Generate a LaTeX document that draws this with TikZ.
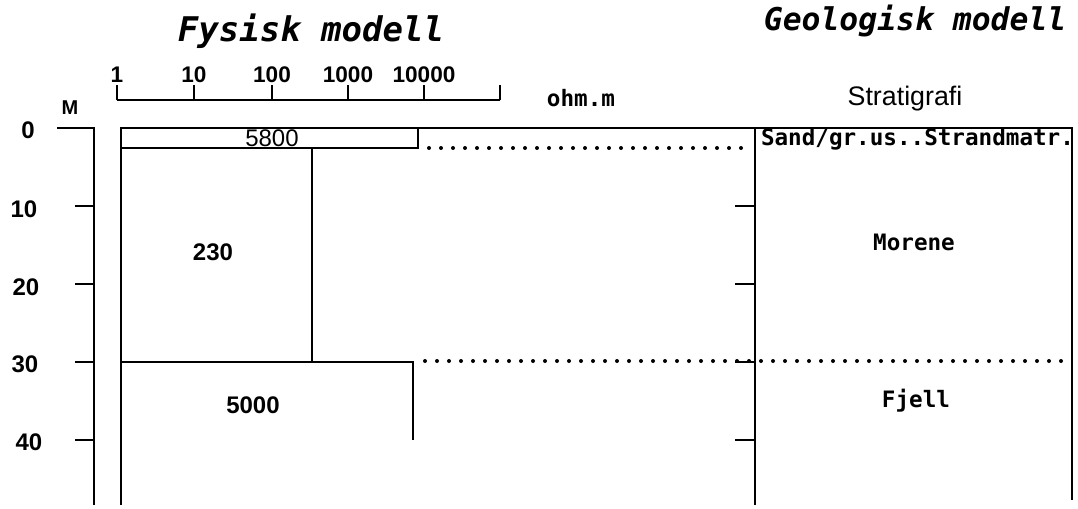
\documentclass[tikz,border=0pt]{standalone}
\usepackage{fontspec}
\setmainfont{Liberation Sans}
\newfontfamily\monofont{DejaVu Sans Mono}
\usepackage{tikz}

\tikzset{
  numlabel/.style={font=\fontsize{12}{12}\selectfont\bfseries},
  monolabel/.style={font=\monofont\fontsize{11.3}{12}\selectfont\bfseries},
  titlelabel/.style={font=\monofont\bfseries\itshape},
  dotline/.style={line width=2pt, dash pattern=on 0pt off 6pt, line cap=round},
}

\begin{document}
\begin{tikzpicture}[x=0.5pt, y=-0.5pt, line width=1pt]
\useasboundingbox (0,0) rectangle (1078,509);

\node[titlelabel, font=\monofont\fontsize{17}{17}\selectfont\bfseries\itshape] (fysisk) at (311,31) {Fysisk modell};
\node[titlelabel, font=\monofont\fontsize{15.7}{16}\selectfont\bfseries\itshape, anchor=east] (geologisk) at (1074,21) {Geologisk modell};

% resistivity scale
\draw (117,100) -- (500,100);
\foreach \xt/\lab [count=\i] in {117/1, 194/10, 272/100, 348/1000, 424/10000} {
  \draw (\xt,100) -- (\xt,85);
  \node[numlabel, font=\fontsize{11.3}{12}\selectfont\bfseries] (rho\i) at (\xt,75) {\lab};
}
\draw (500,100) -- (500,85);
\node[monolabel] (ohm) at (581,98) {ohm.m};
\node[font=\fontsize{13.4}{14}\selectfont] (strat) at (905,99) {Stratigrafi};

% depth axis
\node[numlabel, font=\fontsize{10}{10}\selectfont\bfseries] (unit) at (70,108) {M};
\draw (57,128) -- (94,128) -- (94,505);
\foreach \d [count=\i] in {10,20,30,40} {
  \draw (75,128+7.8*\d) -- (94,128+7.8*\d);
  \draw (735,128+7.8*\d) -- (755,128+7.8*\d);
}
\node[numlabel] (d0) at (28,130) {0};
\node[numlabel] (d10) at (24,209) {10};
\node[numlabel] (d20) at (26,287) {20};
\node[numlabel] (d30) at (25,364) {30};
\node[numlabel] (d40) at (29,442) {40};

% physical model
\draw (121,505) -- (121,128) -- (1072,128) -- (1072,500);
\draw (121,148) -- (418,148) -- (418,128);
\draw (312,148) -- (312,362);
\draw (121,362) -- (413,362) -- (413,440);
\node[numlabel, font=\fontsize{12}{12}\selectfont] (r1) at (272,138) {5800};
\node[numlabel] (r2) at (213,252) {230};
\node[numlabel] (r3) at (253,405) {5000};

% geological model
\draw (755,128) -- (755,505);
\draw[dotline] (429,148) -- (748,148);
\draw[dotline] (425,361) -- (1072,361);
\node[monolabel, anchor=west, inner sep=0pt] (sand) at (760,139) {Sand/gr.us..Strandmatr.};
\node[monolabel] (morene) at (914,242) {Morene};
\node[monolabel] (fjell) at (916,401) {Fjell};
\end{tikzpicture}
\end{document}
